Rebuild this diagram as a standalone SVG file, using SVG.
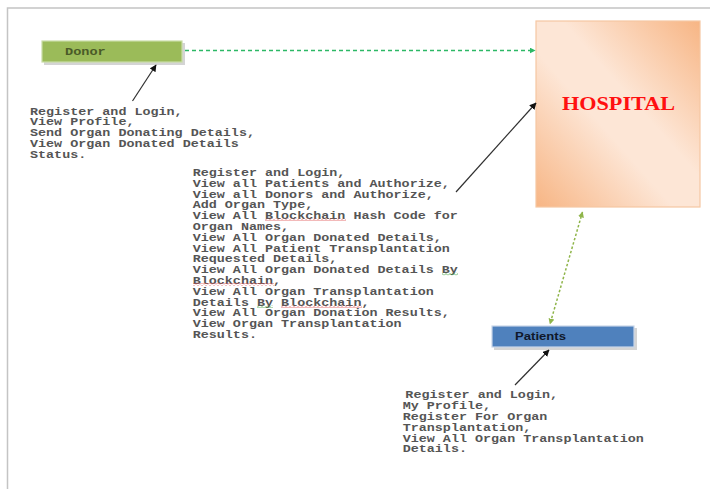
<svg xmlns="http://www.w3.org/2000/svg" width="710" height="489" viewBox="0 0 710 489">
<defs>
<style>
.mono{font-family:"Liberation Mono","Courier New",monospace;font-size:10px;font-weight:bold;fill:#555}
.green{stroke:#2cb866;stroke-width:1.5;stroke-dasharray:4 3;fill:none}
.olive{stroke:#8fb54a;stroke-width:1.5;stroke-dasharray:2.5 2;fill:none}
.black{stroke:#303030;stroke-width:1.2;fill:none}
.shadow{fill:#d4d4d4}
</style>
<linearGradient id="hg" x1="0" y1="1" x2="1" y2="0">
<stop offset="0" stop-color="#f7b584"/>
<stop offset="0.42" stop-color="#fde6d6"/>
<stop offset="0.58" stop-color="#fde6d6"/>
<stop offset="1" stop-color="#f7b584"/>
</linearGradient>
<marker id="ag" viewBox="0 0 10 10" refX="9" refY="5" markerWidth="6" markerHeight="6" orient="auto-start-reverse" markerUnits="userSpaceOnUse"><path d="M0,0 L10,5 L0,10 z" fill="#2cb866"/></marker>
<marker id="ao" viewBox="0 0 10 10" refX="9" refY="5" markerWidth="6" markerHeight="6" orient="auto-start-reverse" markerUnits="userSpaceOnUse"><path d="M0,0 L10,5 L0,10 z" fill="#8fb54a"/></marker>
<marker id="ab" viewBox="0 0 10 10" refX="9" refY="5" markerWidth="7" markerHeight="7" orient="auto" markerUnits="userSpaceOnUse"><path d="M0,0 L10,5 L0,10 z" fill="#111"/></marker>
<pattern id="wr" width="4" height="3" patternUnits="userSpaceOnUse"><polyline points="0,2.5 2,0.5 4,2.5" fill="none" stroke="#e05050" stroke-width="0.8"/></pattern>
<pattern id="wg" width="4" height="3" patternUnits="userSpaceOnUse"><polyline points="0,2.5 2,0.5 4,2.5" fill="none" stroke="#40a040" stroke-width="0.8"/></pattern>
</defs>
<rect width="710" height="489" fill="#fff"/>
<path d="M7.5,489 V8 H710" fill="none" stroke="#c4c4c4" stroke-width="1.5"/>

<g id="donor">
<rect class="shadow" x="44" y="43" width="141" height="22"/>
<rect x="42" y="41" width="140" height="21" fill="#9bbb59" stroke="#c9dca6" stroke-width="1.2"/>
<text transform="translate(65,55) scale(1.36,1)" class="mono" style="fill:#4a5a28">Donor</text>
</g>

<g id="hospital">
<rect x="536" y="21" width="164" height="186" fill="url(#hg)" stroke="#f6c7a2" stroke-width="1.2"/>
<text x="562" y="110" font-family="Liberation Serif, serif" font-weight="bold" font-size="19" fill="#ff1010" textLength="113" lengthAdjust="spacingAndGlyphs">HOSPITAL</text>
</g>

<g id="patients">
<rect class="shadow" x="494" y="328" width="143" height="22"/>
<rect x="492" y="326" width="142" height="21" fill="#4f81bd" stroke="#c9d6e8" stroke-width="1.2"/>
<text x="515" y="340" font-family="Liberation Sans, Arial, sans-serif" font-weight="bold" font-size="10.5" fill="#10182a" textLength="51" lengthAdjust="spacingAndGlyphs">Patients</text>
</g>

<g id="donor-functions">
<text transform="translate(30,114.5) scale(1.34,1)" class="mono">
<tspan x="0" y="0">Register and Login,</tspan>
<tspan x="0" dy="11">View Profile,</tspan>
<tspan x="0" dy="11">Send Organ Donating Details,</tspan>
<tspan x="0" dy="11">View Organ Donated Details</tspan>
<tspan x="0" dy="11">Status.</tspan>
</text>
</g>

<g id="hospital-functions">
<text transform="translate(192.7,176) scale(1.34,1)" class="mono">
<tspan x="0" y="0">Register and Login,</tspan>
<tspan x="0" dy="10.8">View all Patients and Authorize,</tspan>
<tspan x="0" dy="10.8">View all Donors and Authorize,</tspan>
<tspan x="0" dy="10.8">Add Organ Type,</tspan>
<tspan x="0" dy="10.8">View All Blockchain Hash Code for</tspan>
<tspan x="0" dy="10.8">Organ Names,</tspan>
<tspan x="0" dy="10.8">View All Organ Donated Details,</tspan>
<tspan x="0" dy="10.8">View All Patient Transplantation</tspan>
<tspan x="0" dy="10.8">Requested Details,</tspan>
<tspan x="0" dy="10.8">View All Organ Donated Details By</tspan>
<tspan x="0" dy="10.8">Blockchain,</tspan>
<tspan x="0" dy="10.8">View All Organ Transplantation</tspan>
<tspan x="0" dy="10.8">Details By Blockchain,</tspan>
<tspan x="0" dy="10.8">View All Organ Donation Results,</tspan>
<tspan x="0" dy="10.8">View Organ Transplantation</tspan>
<tspan x="0" dy="10.8">Results.</tspan>
</text>
<rect x="265" y="218" width="81" height="3" fill="url(#wr)"/>
<rect x="442" y="272.5" width="16" height="3" fill="url(#wg)"/>
<rect x="193" y="283" width="81" height="3" fill="url(#wr)"/>
<rect x="257" y="305" width="16" height="3" fill="url(#wg)"/>
<rect x="281" y="305" width="81" height="3" fill="url(#wr)"/>
</g>

<g id="patient-functions">
<text transform="translate(402.7,398) scale(1.34,1)" class="mono">
<tspan x="2" y="0">Register and Login,</tspan>
<tspan x="0" dy="10.9">My Profile,</tspan>
<tspan x="0" dy="10.9">Register For Organ</tspan>
<tspan x="0" dy="10.9">Transplantation,</tspan>
<tspan x="0" dy="10.9">View All Organ Transplantation</tspan>
<tspan x="0" dy="10.9">Details.</tspan>
</text>
</g>

<g id="connectors">
<line class="green" x1="185" y1="50.5" x2="535" y2="50.5" marker-end="url(#ag)"/>
<line class="olive" x1="582.5" y1="212" x2="550" y2="324" marker-start="url(#ao)" marker-end="url(#ao)"/>
<line class="black" x1="132.5" y1="101" x2="156" y2="65" marker-end="url(#ab)"/>
<line class="black" x1="456" y1="192" x2="536" y2="103" marker-end="url(#ab)"/>
<line class="black" x1="515" y1="385" x2="549" y2="350" marker-end="url(#ab)"/>
</g>
</svg>
